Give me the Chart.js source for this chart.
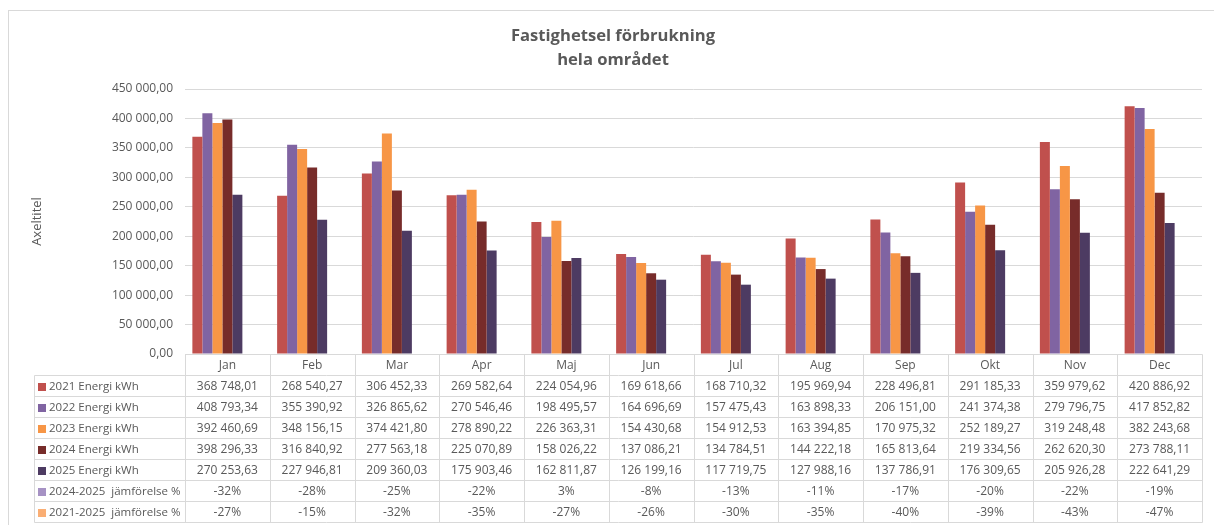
<!DOCTYPE html>
<html>
<head>
<meta charset="utf-8">
<title>Fastighetsel förbrukning</title>
<script src="https://cdn.jsdelivr.net/npm/chart.js@4.4.1/dist/chart.umd.min.js"></script>
<style>
  html, body { margin: 0; padding: 0; background: #fff; }
  #wrap { width: 1214px; height: 525px; }
</style>
</head>
<body>
<div id="wrap"><canvas id="elChart" width="1214" height="525"></canvas></div>
<script>
// --- data ---
const months = ['Jan', 'Feb', 'Mar', 'Apr', 'Maj', 'Jun', 'Jul', 'Aug', 'Sep', 'Okt', 'Nov', 'Dec'];
const energy2021 = [368748.01, 268540.27, 306452.33, 269582.64, 224054.96, 169618.66, 168710.32, 195969.94, 228496.81, 291185.33, 359979.62, 420886.92];
const energy2022 = [408793.34, 355390.92, 326865.62, 270546.46, 198495.57, 164696.69, 157475.43, 163898.33, 206151.00, 241374.38, 279796.75, 417852.82];
const energy2023 = [392460.69, 348156.15, 374421.80, 278890.22, 226363.31, 154430.68, 154912.53, 163394.85, 170975.32, 252189.27, 319248.48, 382243.68];
const energy2024 = [398296.33, 316840.92, 277563.18, 225070.89, 158026.22, 137086.21, 134784.51, 144222.18, 165813.64, 219334.56, 262620.30, 273788.11];
const energy2025 = [270253.63, 227946.81, 209360.03, 175903.46, 162811.87, 126199.16, 117719.75, 127988.16, 137786.91, 176309.65, 205926.28, 222641.29];
const cmp2024to2025 = [-32, -28, -25, -22, 3, -8, -13, -11, -17, -20, -22, -19];
const cmp2021to2025 = [-27, -15, -32, -35, -27, -26, -30, -35, -40, -39, -43, -47];
const yTicks = [0, 50000, 100000, 150000, 200000, 250000, 300000, 350000, 400000, 450000];
const titleLines = ['Fastighetsel förbrukning', 'hela området'];

const GREY = '#595959';
const LINE = '#D9D9D9';
const FONT = "'Open Sans', 'Liberation Sans', sans-serif";

// 450 000,00 style
function fmtNum(v) {
    const parts = v.toFixed(2).split('.');
    return parts[0].replace(/\B(?=(\d{3})+(?!\d))/g, ' ') + ',' + parts[1];
}
const fmtPct = v => v + '%';

const series = [
    { label: '2021 Energi kWh', data: energy2021, color: '#C0504D', fmt: fmtNum },
    { label: '2022 Energi kWh', data: energy2022, color: '#8064A2', fmt: fmtNum },
    { label: '2023 Energi kWh', data: energy2023, color: '#F79646', fmt: fmtNum },
    { label: '2024 Energi kWh', data: energy2024, color: '#772C2A', fmt: fmtNum },
    { label: '2025 Energi kWh', data: energy2025, color: '#4D3B62', fmt: fmtNum },
    { label: '2024-2025  jämförelse %', data: cmp2024to2025, color: '#A692C4', fmt: fmtPct, pct: true },
    { label: '2021-2025  jämförelse %', data: cmp2021to2025, color: '#FAAE74', fmt: fmtPct, pct: true }
];

/**
 * Frame, white background and the two line title
 */
const framePlugin = {
    id: 'frame',
    beforeDraw(chart) {
        const ctx = chart.ctx;
        ctx.save();
        ctx.fillStyle = '#fff';
        ctx.fillRect(0, 0, chart.width, chart.height);
        ctx.strokeStyle = LINE;
        ctx.lineWidth = 1;
        ctx.strokeRect(8.5, 10.5, chart.width + 20, chart.height + 20);

        ctx.fillStyle = GREY;
        ctx.font = 'bold 16.6px ' + FONT;
        ctx.textAlign = 'center';
        ctx.textBaseline = 'alphabetic';
        titleLines.forEach((t, i) => ctx.fillText(t, 613, 41 + i * 24));
        ctx.restore();
    }
};

/**
 * Data table under the plot, columns follow the x scale
 */
const tablePlugin = {
    id: 'dataTable',
    afterDraw(chart) {
        const ctx = chart.ctx;
        const area = chart.chartArea;
        const xScale = chart.scales.x;
        const colW = (area.right - area.left) / months.length;
        const rowH = 21;
        const x0 = 34;
        const y0 = Math.round(area.bottom);
        const rows = series.length;
        const px = v => Math.round(v) + 0.5;

        ctx.save();
        ctx.strokeStyle = LINE;
        ctx.lineWidth = 1;
        ctx.beginPath();
        // header top line (axis line)
        ctx.moveTo(px(area.left), px(y0));
        ctx.lineTo(px(area.right), px(y0));
        for (let r = 1; r <= rows + 1; r++) {
            ctx.moveTo(px(x0), px(y0 + r * rowH));
            ctx.lineTo(px(area.right), px(y0 + r * rowH));
        }
        ctx.moveTo(px(x0), px(y0 + rowH));
        ctx.lineTo(px(x0), px(y0 + (rows + 1) * rowH));
        for (let i = 0; i <= months.length; i++) {
            const x = px(area.left + i * colW);
            ctx.moveTo(x, px(y0));
            ctx.lineTo(x, px(y0 + (rows + 1) * rowH));
        }
        ctx.stroke();

        ctx.fillStyle = GREY;
        ctx.font = '12px ' + FONT;
        ctx.textBaseline = 'middle';
        ctx.textAlign = 'center';
        months.forEach((m, i) => {
            ctx.fillText(m, xScale.getPixelForValue(i), y0 + rowH / 2 + 1);
        });

        series.forEach((s, r) => {
            const cy = y0 + (r + 1) * rowH + rowH / 2 + 1;
            ctx.fillStyle = s.color;
            ctx.fillRect(38, Math.round(cy - 4), 8, 8);
            ctx.fillStyle = GREY;
            ctx.textAlign = 'left';
            ctx.font = '11.5px ' + FONT;
            ctx.fillText(s.label, 49, cy);
            ctx.textAlign = 'center';
            ctx.font = '12px ' + FONT;
            s.data.forEach((v, i) => {
                ctx.fillText(s.fmt(v), xScale.getPixelForValue(i), cy);
            });
        });
        ctx.restore();
    }
};

const ctx = document.getElementById('elChart').getContext('2d');

new Chart(ctx, {
    type: 'bar',
    data: {
        labels: months,
        datasets: series.map(s => ({
            label: s.label,
            // the % series sit on the kWh axis as fractions, so they take a slot but stay flat
            data: s.pct ? s.data.map(v => v / 100) : s.data,
            backgroundColor: s.pct ? 'rgba(0,0,0,0)' : s.color,
            borderWidth: 0,
            categoryPercentage: 0.826,
            barPercentage: 1.0
        }))
    },
    options: {
        responsive: false,
        animation: false,
        devicePixelRatio: 1,
        layout: { padding: { left: 0, right: 12, top: 89, bottom: 171 } },
        scales: {
            x: { display: false },
            y: {
                min: 0,
                max: 450000,
                afterBuildTicks: scale => { scale.ticks = yTicks.map(v => ({ value: v })); },
                afterFit: scale => { scale.width = 185; },
                ticks: {
                    color: GREY,
                    padding: 12,
                    font: { size: 12, family: FONT },
                    callback: v => fmtNum(v)
                },
                grid: { color: LINE, lineWidth: 1, drawTicks: false },
                border: { display: false },
                title: {
                    display: true,
                    text: 'Axeltitel',
                    color: GREY,
                    font: { size: 13, family: FONT },
                    padding: { top: 29, bottom: 0 }
                }
            }
        },
        plugins: {
            legend: { display: false },
            tooltip: { enabled: false },
            title: { display: false }
        }
    },
    plugins: [framePlugin, tablePlugin]
});
</script>
</body>
</html>
